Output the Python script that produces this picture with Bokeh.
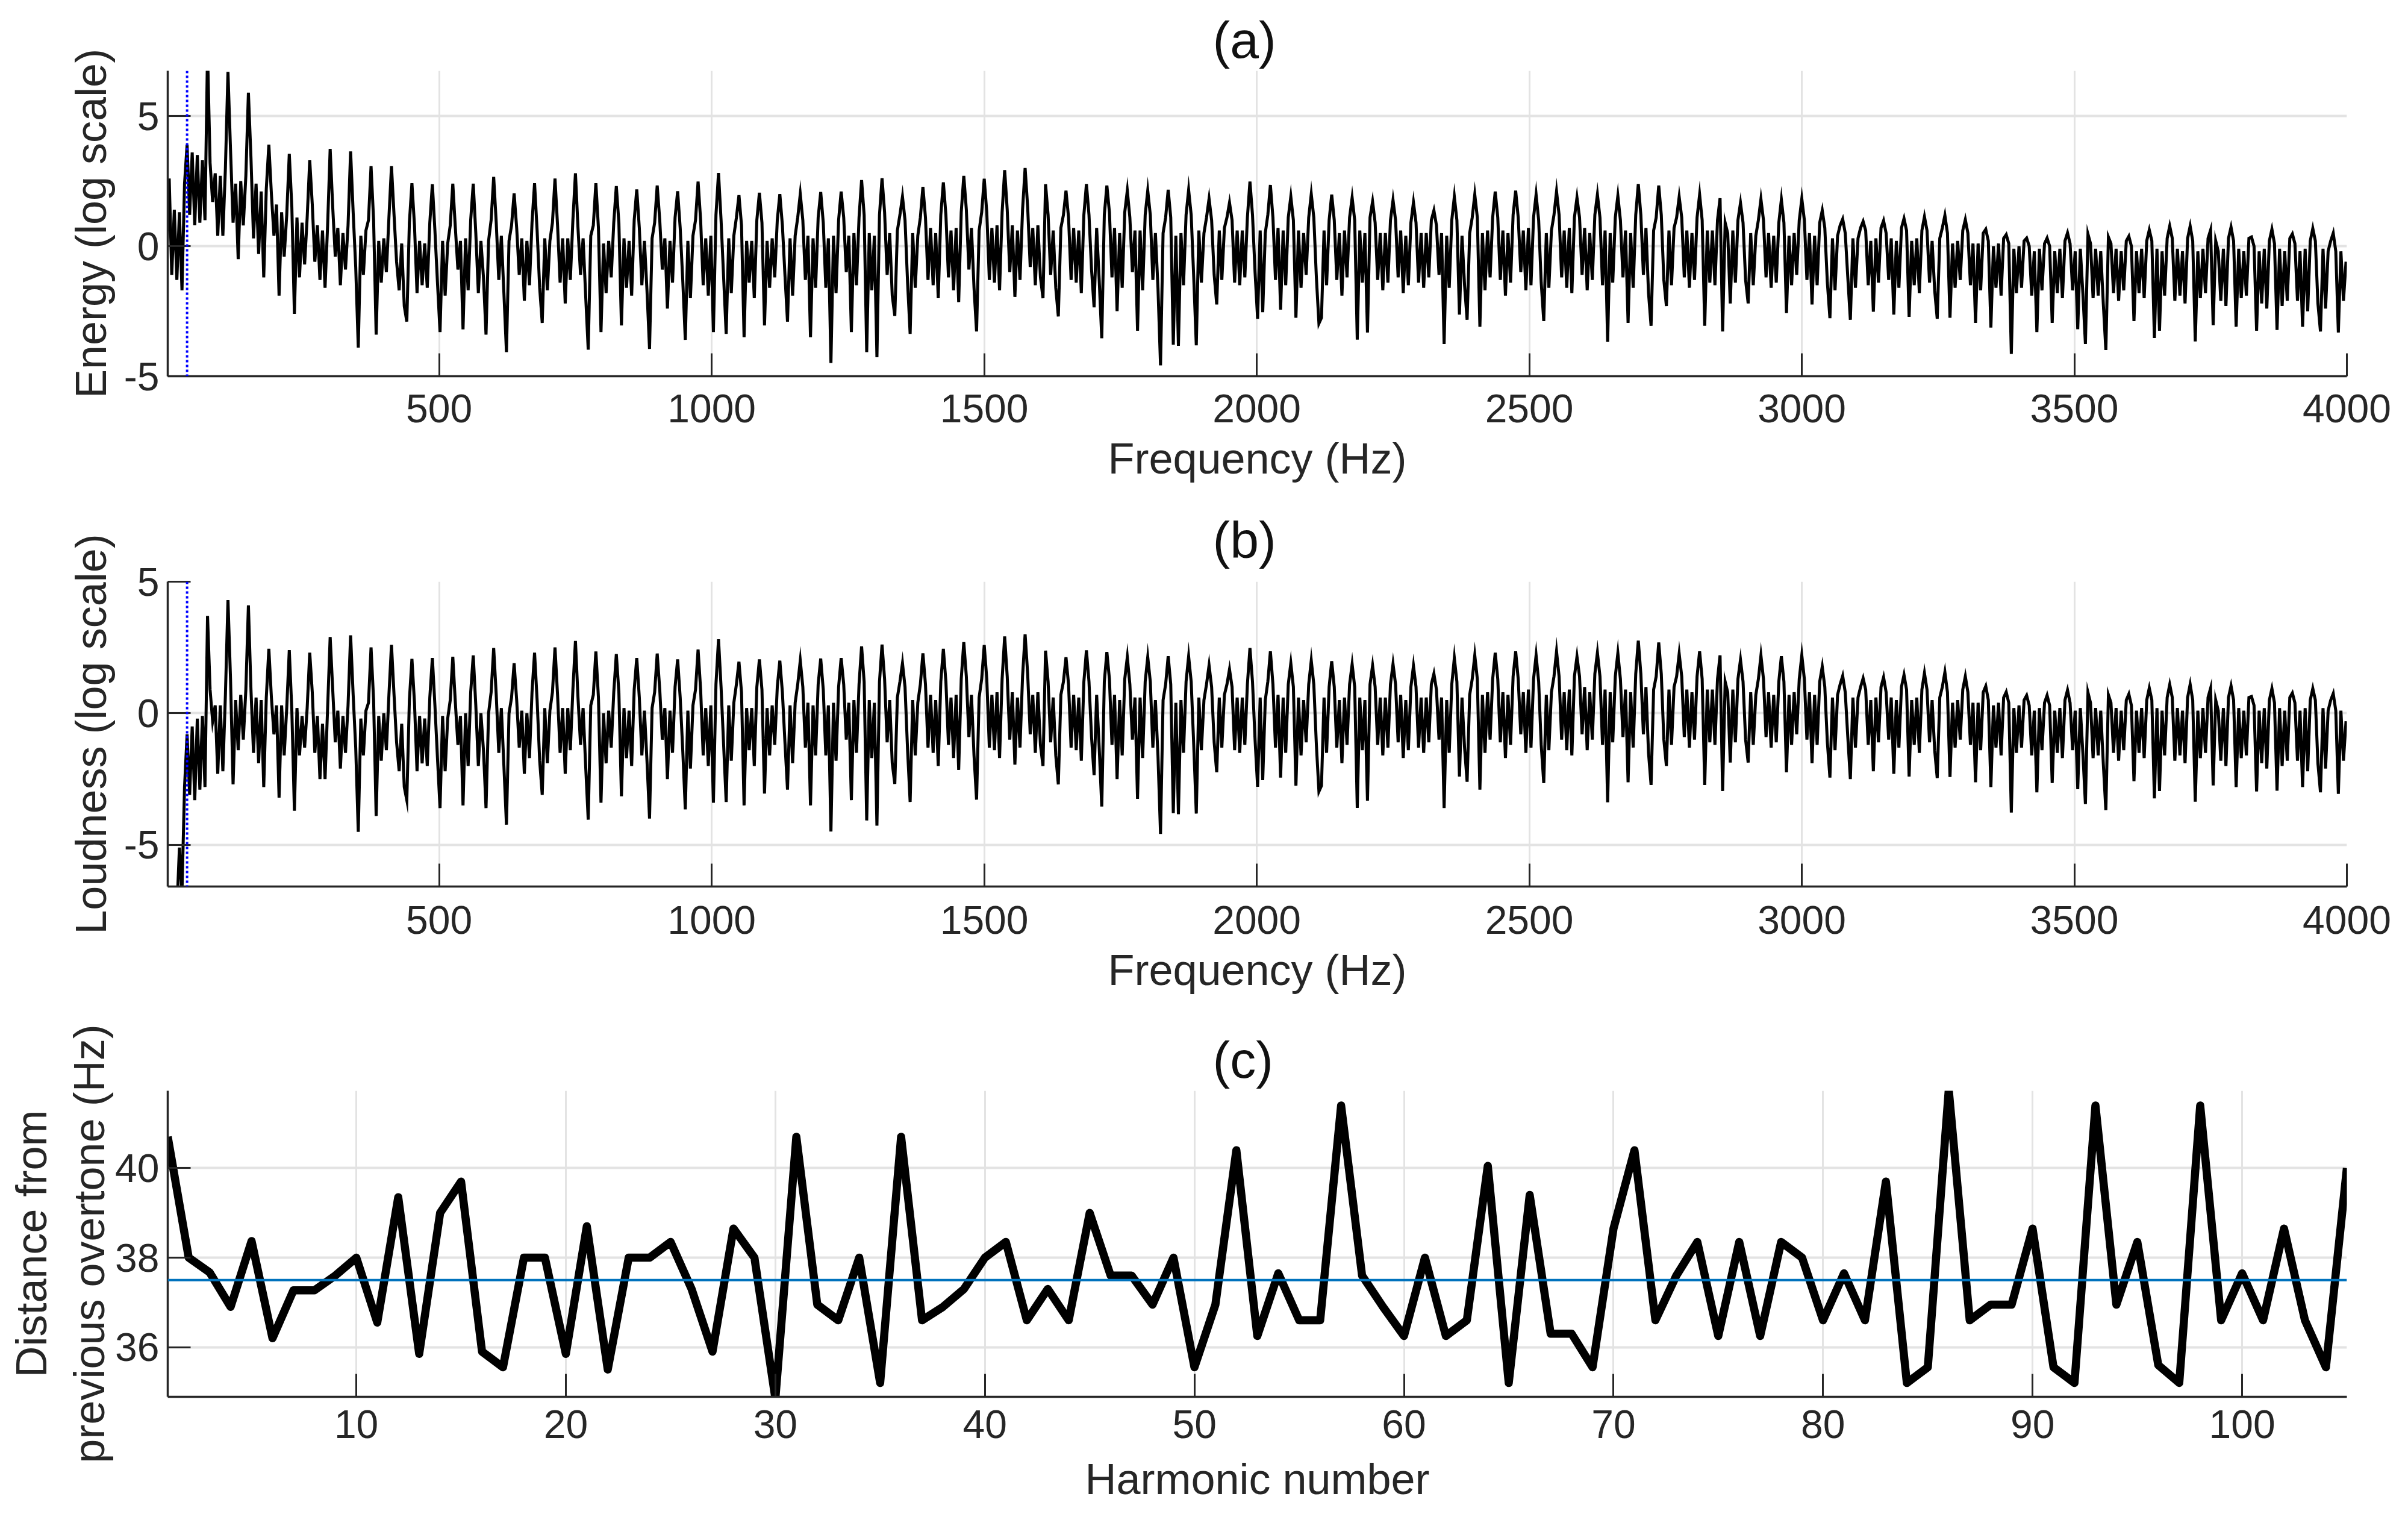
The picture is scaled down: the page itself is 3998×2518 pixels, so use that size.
import numpy as np

from bokeh.embed import file_html
from bokeh.layouts import column
from bokeh.models import FixedTicker, Range1d, Span
from bokeh.plotting import figure
from bokeh.resources import INLINE

# one row per overtone, 8 readings per 37.5 Hz, first reading of a row is the peak
energy_low = [
    -0.5,2.6,-1.1,1.4,-1.3,1.3,-1.7,2.4,
    3.9,1.2,3.6,0.8,3.5,0.9,3.3,1.0,
    7.5,3.2,1.7,2.8,0.4,2.7,0.4,3.0,
    6.7,3.7,0.9,2.4,-0.5,2.5,0.8,2.7,
    5.9,3.4,0.3,2.4,-0.3,2.1,-1.2,2.2,
    3.9,2.0,0.4,1.6,-1.9,1.3,-0.4,1.2,
    3.55,1.5,-2.6,1.1,-1.2,0.9,-0.7,1.1,
    3.3,1.6,-0.6,0.8,-1.3,0.6,-1.6,0.8,
    3.74,1.5,-0.4,0.7,-1.5,0.5,-0.9,0.8,
    3.64,1.3,-0.8,-3.9,0.4,-1.1,0.6,1.0,
    3.07,1.0,-3.4,0.2,-1.4,0.3,-1.0,1.1,
    3.07,1.2,-0.6,-1.7,0.1,-2.3,-2.9,0.9,
    2.42,0.8,-1.8,0.2,-1.5,0.1,-1.6,0.9,
    2.38,0.6,-1.4,-3.3,0.2,-1.9,0.1,0.8,
    2.4,0.7,-0.9,0.2,-3.2,0.3,-1.7,1.0,
    2.4,0.5,-1.8,0.2,-1.2,-3.4,0.2,1.0,
    2.66,0.9,-1.3,0.4,-1.8,-4.07,0.2,0.8,
    2.03,0.7,-1.1,0.3,-2.1,0.2,-1.5,0.9,
    2.42,0.6,-1.6,-2.95,0.3,-1.7,0.2,0.9,
    2.6,0.8,-1.4,0.3,-2.2,0.3,-1.3,1.0,
    2.8,0.7,-1.1,0.3,-1.9,-3.98,0.4,0.8,
    2.42,0.7,-3.3,0.1,-1.8,0.2,-1.2,0.9,
    2.31,0.9,-3.05,0.3,-1.6,0.2,-1.9,1.0,
    2.18,0.7,-1.5,0.2,-1.7,-3.95,0.3,0.9,
    2.33,1.0,-0.9,0.3,-2.4,0.2,-1.4,1.1,
    2.11,0.7,-1.3,-3.6,0.2,-2.0,0.4,1.0,
    2.48,1.0,-1.5,0.3,-1.9,0.4,-3.3,1.2,
]

loudness_low = [
    -9,-9,-9,-9,-7.5,-5.1,-6.8,-2.8,
    -0.8,-3.1,-0.5,-3.3,-0.2,-2.9,-0.1,-2.8,
    3.7,0.9,-0.3,0.3,-2.3,0.3,-2.2,0.7,
    4.3,1.3,-2.7,0.5,-1.4,0.7,-1.0,0.9,
    4.1,0.9,-1.5,0.6,-1.9,0.5,-2.8,0.6,
    2.45,0.6,-0.8,0.3,-3.2,0.3,-1.6,0.2,
    2.4,0.1,-3.7,0.2,-1.6,-0.1,-1.3,0.2,
    2.3,0.8,-1.5,-0.1,-2.5,-0.4,-2.5,0.2,
    2.9,0.9,-1.1,0.1,-2.1,-0.1,-1.5,0.3,
    2.96,0.7,-1.3,-4.5,-0.2,-1.6,0.1,0.4,
    2.5,0.5,-3.9,-0.1,-1.8,0.0,-1.4,0.7,
    2.6,0.7,-1.1,-2.2,-0.4,-2.8,-3.3,0.5,
    2.07,0.4,-2.2,-0.1,-1.9,-0.2,-2.0,0.6,
    2.1,0.3,-1.7,-3.6,-0.1,-2.2,-0.2,0.5,
    2.15,0.4,-1.2,-0.1,-3.5,0.0,-2.0,0.8,
    2.2,0.3,-2.0,0.0,-1.4,-3.6,0.0,0.8,
    2.48,0.7,-1.5,0.2,-2.0,-4.23,0.0,0.6,
    1.9,0.5,-1.3,0.1,-2.3,0.0,-1.7,0.8,
    2.3,0.5,-1.8,-3.1,0.2,-1.9,0.1,0.8,
    2.5,0.7,-1.5,0.2,-2.3,0.2,-1.4,0.9,
    2.75,0.6,-1.2,0.2,-2.0,-4.04,0.3,0.7,
    2.35,0.6,-3.4,0.0,-1.9,0.1,-1.3,0.8,
    2.25,0.8,-3.15,0.2,-1.7,0.1,-2.0,0.9,
    2.1,0.6,-1.6,0.1,-1.8,-4.0,0.2,0.8,
    2.27,0.9,-1.0,0.2,-2.5,0.1,-1.5,1.0,
    2.05,0.6,-1.4,-3.65,0.1,-2.1,0.3,0.9,
    2.42,0.9,-1.6,0.2,-2.0,0.3,-3.4,1.1,
]

# overtones 27 to 58 read the same in both panels
shared_mid = [
    2.81,1.0,-1.2,-3.37,0.3,-1.8,0.4,1.1,
    1.96,0.8,-3.5,0.2,-1.4,0.2,-2.0,1.0,
    2.05,0.9,-3.05,0.2,-1.6,0.3,-1.2,1.0,
    2.0,0.8,-1.1,-2.9,0.3,-1.9,0.4,1.1,
    2.0,1.0,-1.3,0.4,-3.5,0.3,-1.6,1.1,
    2.08,0.9,-1.6,0.3,-4.49,0.4,-1.8,1.0,
    2.1,1.1,-1.0,0.4,-3.3,0.5,-1.5,1.1,
    2.54,1.2,-4.07,0.5,-1.7,0.4,-4.27,1.2,
    2.61,1.3,-1.1,0.5,-1.9,-2.68,0.6,1.2,
    1.9,1.0,-1.4,-3.37,0.5,-1.6,0.4,1.1,
    2.28,1.1,-1.3,0.7,-1.5,0.5,-2.0,1.2,
    2.45,1.2,-1.2,0.6,-1.7,0.7,-2.15,1.3,
    2.7,1.4,-0.9,0.7,-1.6,-3.28,0.6,1.3,
    2.59,1.3,-1.3,0.7,-1.4,0.8,-1.7,1.3,
    2.92,1.4,-1.0,0.8,-1.95,0.6,-1.3,1.4,
    3.0,1.5,-0.8,0.7,-1.5,0.8,-1.2,-2.0,
    2.38,1.2,-1.1,0.6,-1.6,-2.7,0.7,1.2,
    2.13,1.1,-1.3,0.7,-1.4,0.6,-1.8,1.2,
    2.39,1.2,-0.9,-2.35,0.7,-1.3,-3.54,1.2,
    2.33,1.3,-1.2,0.7,-2.5,0.5,-1.6,1.3,
    2.13,1.1,-1.0,0.6,-3.25,0.6,-1.7,1.2,
    2.13,1.2,-1.3,0.5,-1.6,-4.58,0.5,1.1,
    2.17,1.1,-3.79,0.4,-3.83,0.5,-1.5,1.2,
    2.16,1.2,-1.2,-3.81,0.6,-1.4,0.5,1.1,
    1.82,1.0,-1.1,-2.24,0.6,-1.3,0.7,1.1,
    1.67,1.0,-1.4,0.6,-1.5,0.6,-1.2,1.1,
    2.48,1.2,-1.0,-2.79,0.6,-2.54,0.5,1.2,
    2.35,1.1,-1.3,0.7,-2.44,0.6,-1.5,1.1,
    1.9,1.0,-2.75,0.6,-1.6,0.5,-1.1,1.1,
    2.0,1.1,-1.2,-2.97,-2.75,0.6,-1.5,1.0,
    1.98,1.0,-1.3,0.5,-1.9,0.6,-1.2,1.1,
    1.86,1.0,-3.59,0.6,-1.4,0.5,-3.32,1.1,
]

energy_high = [
    1.71,0.9,-1.3,0.5,-1.7,0.5,-1.4,1.0,
    1.77,1.0,-1.2,0.6,-1.8,0.4,-1.5,0.9,
    1.68,0.9,-1.4,0.5,-1.6,0.5,-1.2,1.0,
    1.37,0.8,-1.1,0.5,-3.76,0.4,-1.6,1.0,
    1.9,1.0,-2.63,0.4,-1.5,-2.83,0.5,1.1,
    1.98,1.1,-3.1,0.5,-1.7,0.6,-1.2,1.1,
    2.1,1.1,-1.3,0.6,-1.9,0.5,-1.4,1.2,
    2.13,1.1,-1.0,0.6,-1.7,0.7,-1.5,1.1,
    1.98,1.0,-1.4,-2.88,0.5,-1.6,0.6,1.2,
    2.1,1.2,-1.2,0.6,-1.6,0.7,-1.8,1.1,
    1.86,1.1,-1.1,0.7,-1.7,0.5,-1.3,1.2,
    1.98,1.1,-1.5,0.6,-3.68,0.5,-1.4,1.1,
    1.93,1.0,-1.2,0.6,-2.95,0.5,-1.6,1.2,
    2.39,1.2,-1.1,0.7,-1.8,-3.06,0.6,1.1,
    2.33,1.2,-1.3,-2.3,0.6,-1.5,0.7,1.1,
    1.89,1.1,-1.2,0.6,-1.6,0.5,-1.3,1.1,
    1.98,1.0,-3.06,0.6,-1.4,0.6,-1.5,1.0,
    1.84,-3.28,0.9,0.5,-2.2,0.6,-1.4,1.0,
    1.66,0.9,-1.3,-2.2,0.5,-1.5,0.4,1.0,
    1.8,1.0,-1.2,0.5,-1.6,0.4,-1.4,0.9,
    1.79,0.9,-2.57,0.4,-1.5,0.5,-1.1,1.0,
    1.82,1.0,-1.3,0.5,-2.24,0.4,-1.5,0.9,
    1.37,0.7,-1.4,-2.77,0.3,-1.7,0.4,0.8,
    1.04,0.5,-1.2,-2.83,0.3,-1.6,0.3,0.7,
    0.95,0.6,-1.5,0.2,-2.52,0.3,-1.4,0.7,
    0.98,0.5,-1.3,0.3,-2.63,0.2,-1.6,0.7,
    1.06,0.6,-2.72,0.2,-1.5,0.3,-1.8,0.6,
    1.13,0.6,-1.4,0.2,-1.7,-2.79,0.3,0.7,
    1.18,0.5,-2.75,0.1,-1.6,0.2,-1.3,0.6,
    1.02,0.5,-1.5,0.1,-2.95,0.1,-1.7,0.5,
    0.65,0.2,-3.13,0.0,-1.6,0.1,-1.9,0.3,
    0.44,0.1,-4.14,-0.1,-1.8,0.0,-1.6,0.2,
    0.31,0.0,-1.9,-0.2,-3.3,-0.1,-1.7,0.1,
    0.31,0.0,-2.95,-0.2,-1.8,-0.1,-2.0,0.2,
    0.51,0.1,-1.7,-0.2,-3.19,-0.1,-1.8,-3.76,
    0.46,0.1,-2.0,-0.1,-1.9,-0.2,-2.2,-3.99,
    0.35,0.1,-1.8,-0.1,-2.1,-0.2,-1.7,0.2,
    0.38,0.0,-2.88,-0.2,-1.8,-0.1,-2.0,0.2,
    0.62,0.2,-3.53,-0.1,-3.25,-0.2,-1.9,0.3,
    0.77,0.3,-2.1,-0.1,-1.9,-0.2,-2.2,0.3,
    0.77,0.2,-3.66,-0.2,-2.0,-0.1,-1.8,0.3,
    0.62,-3.04,0.2,-0.2,-2.1,-0.1,-2.3,0.3,
    0.73,0.2,-3.1,-0.1,-2.0,-0.2,-1.9,0.3,
    0.35,0.0,-3.25,-0.2,-2.2,-0.1,-2.4,0.2,
    0.65,0.1,-3.22,-0.1,-2.3,-0.2,-2.1,0.3,
    0.47,0.1,-2.1,-0.2,-3.1,-0.1,-2.5,0.2,
    0.68,0.2,-2.2,-3.28,-0.1,-2.4,-0.2,0.2,
    0.5,-0.2,-3.32,-0.2,-2.1,-0.6,
]

loudness_high = [
    1.81,1.0,-1.2,0.6,-1.6,0.6,-1.3,1.1,
    1.87,1.1,-1.1,0.7,-1.7,0.5,-1.4,1.0,
    1.8,1.0,-1.3,0.6,-1.5,0.6,-1.1,1.1,
    1.5,0.9,-1.0,0.6,-3.6,0.5,-1.5,1.1,
    2.1,1.2,-2.4,0.6,-1.3,-2.6,0.7,1.3,
    2.2,1.3,-2.9,0.7,-1.5,0.8,-1.0,1.3,
    2.3,1.3,-1.1,0.8,-1.7,0.7,-1.2,1.4,
    2.35,1.3,-0.8,0.8,-1.5,0.9,-1.3,1.3,
    2.2,1.2,-1.2,-2.65,0.7,-1.4,0.8,1.4,
    2.35,1.4,-1.0,0.8,-1.4,0.9,-1.6,1.4,
    2.15,1.4,-0.8,1.0,-1.4,0.8,-1.0,1.5,
    2.3,1.4,-1.2,0.9,-3.38,0.8,-1.1,1.4,
    2.28,1.3,-0.9,0.9,-2.62,0.8,-1.3,1.5,
    2.76,1.5,-0.8,1.0,-1.5,-2.72,0.9,1.4,
    2.69,1.5,-1.0,-2.0,0.9,-1.2,1.0,1.4,
    2.26,1.4,-0.9,0.9,-1.3,0.8,-1.0,1.4,
    2.35,1.3,-2.72,0.9,-1.1,0.9,-1.2,1.3,
    2.2,-2.95,1.2,0.8,-1.87,0.9,-1.1,1.3,
    2.03,1.2,-1.0,-1.87,0.8,-1.2,0.7,1.3,
    2.19,1.3,-0.9,0.8,-1.3,0.7,-1.1,1.2,
    2.17,1.2,-2.24,0.7,-1.2,0.8,-0.8,1.3,
    2.2,1.3,-1.0,0.8,-1.9,0.7,-1.2,1.2,
    1.77,1.0,-1.1,-2.44,0.6,-1.4,0.7,1.1,
    1.42,0.8,-0.9,-2.5,0.6,-1.3,0.6,1.0,
    1.33,0.9,-1.2,0.5,-2.2,0.6,-1.1,1.0,
    1.37,0.8,-1.0,0.6,-2.3,0.5,-1.3,1.0,
    1.46,0.9,-2.4,0.5,-1.2,0.6,-1.5,0.9,
    1.53,0.9,-1.1,0.5,-1.4,-2.46,0.6,1.0,
    1.56,0.8,-2.42,0.4,-1.3,0.5,-1.0,0.9,
    1.4,0.8,-1.2,0.4,-2.62,0.4,-1.4,0.8,
    1.03,0.5,-2.8,0.3,-1.3,0.4,-1.6,0.6,
    0.81,0.4,-3.77,0.2,-1.5,0.3,-1.3,0.5,
    0.68,0.3,-1.6,0.1,-3.0,0.2,-1.4,0.4,
    0.68,0.3,-2.65,0.1,-1.5,0.2,-1.7,0.5,
    0.88,0.4,-1.4,0.1,-2.88,0.2,-1.5,-3.45,
    0.79,0.4,-1.7,0.2,-1.6,0.1,-1.9,-3.68,
    0.7,0.4,-1.5,0.2,-1.8,0.1,-1.4,0.5,
    0.73,0.3,-2.58,0.1,-1.5,0.2,-1.7,0.5,
    0.96,0.5,-3.23,0.2,-2.95,0.1,-1.6,0.6,
    1.09,0.6,-1.8,0.2,-1.6,0.1,-1.9,0.6,
    1.1,0.5,-3.36,0.1,-1.7,0.2,-1.5,0.6,
    0.95,-2.74,0.5,0.1,-1.8,0.2,-2.0,0.6,
    1.04,0.5,-2.8,0.2,-1.7,0.1,-1.6,0.6,
    0.64,0.3,-2.97,0.1,-1.9,0.2,-2.1,0.5,
    0.94,0.4,-2.94,0.2,-2.0,0.1,-1.8,0.6,
    0.77,0.4,-1.8,0.1,-2.8,0.2,-2.2,0.5,
    0.94,0.5,-1.9,-3.0,0.2,-2.1,0.1,0.5,
    0.75,0.1,-3.06,0.1,-1.8,-0.3,
]

harmonic_distance = [
    40.7,38.0,37.67,36.9,38.37,36.2,37.27,37.27,37.6,38.0,
    36.55,39.35,35.85,39.0,39.7,35.9,35.55,38.0,38.0,35.85,
    38.7,35.5,38.0,38.0,38.35,37.3,35.9,38.65,38.0,34.85,
    40.7,36.95,36.6,38.0,35.2,40.7,36.6,36.9,37.3,38.0,
    38.35,36.6,37.3,36.6,39.0,37.6,37.6,36.95,38.0,35.55,
    36.95,40.4,36.25,37.65,36.6,36.6,41.4,37.6,36.9,36.25,
    38.0,36.25,36.6,40.05,35.2,39.4,36.3,36.3,35.55,38.65,
    40.4,36.6,37.6,38.35,36.25,38.35,36.25,38.35,38.0,36.6,
    37.65,36.6,39.7,35.2,35.55,41.75,36.6,36.95,36.95,38.65,
    35.55,35.2,41.4,36.95,38.35,35.6,35.2,41.4,36.6,37.65,
    36.6,38.65,36.6,35.55,40.0,
]

fundamental = 37.5
mean_distance = 37.5
freq_step = fundamental / 8

freq_ticks = [500, 1000, 1500, 2000, 2500, 3000, 3500, 4000]
level_ticks = [-5, 0, 5]
harmonic_ticks = [10, 20, 30, 40, 50, 60, 70, 80, 90, 100]
distance_ticks = [36, 38, 40]

TEXT = "#262626"
GRID = "#e3e3e3"
FONT = "Liberation Sans"


def make_panel(title, xlabel, ylabel, xr, yr, xticks, yticks, height, top, bottom,
               title_off, tick_off, xlabel_off, ylabel_off):
    p = figure(width=3982, height=height, x_range=Range1d(*xr), y_range=Range1d(*yr),
               output_backend="svg", toolbar_location=None,
               min_border_left=278, min_border_right=86, min_border_top=top, min_border_bottom=bottom)
    p.outline_line_color = None
    p.title.text = title
    p.title.align = "left"
    p.title.offset = 1735
    p.title.text_font = FONT
    p.title.text_font_size = "86px"
    p.title.text_font_style = "normal"
    p.title.text_color = "#111111"
    p.title.standoff = title_off

    p.xaxis.ticker = FixedTicker(ticks=xticks)
    p.yaxis.ticker = FixedTicker(ticks=yticks)
    p.yaxis.major_label_overrides = {t: str(t) for t in yticks}
    p.xaxis.major_label_overrides = {t: str(t) for t in xticks}
    p.xaxis.axis_label = xlabel
    p.yaxis.axis_label = ylabel

    for ax in (p.xaxis[0], p.yaxis[0]):
        ax.axis_line_color = TEXT
        ax.axis_line_width = 3.5
        ax.major_tick_line_color = TEXT
        ax.major_tick_line_width = 3
        ax.major_tick_in = 38
        ax.major_tick_out = 0
        ax.minor_tick_line_color = None
        ax.major_label_text_font = FONT
        ax.major_label_text_font_size = "66px"
        ax.major_label_text_color = TEXT
        ax.axis_label_text_font = FONT
        ax.axis_label_text_font_size = "72px"
        ax.axis_label_text_font_style = "normal"
        ax.axis_label_text_color = TEXT
    p.xaxis.major_label_standoff = tick_off
    p.yaxis.major_label_standoff = 14
    p.xaxis.axis_label_standoff = xlabel_off
    p.yaxis.axis_label_standoff = ylabel_off

    p.xgrid.ticker = FixedTicker(ticks=xticks)
    p.ygrid.ticker = FixedTicker(ticks=yticks)
    p.xgrid.grid_line_color = GRID
    p.xgrid.grid_line_width = 3
    p.ygrid.grid_line_color = GRID
    p.ygrid.grid_line_width = 4
    return p


energy = np.array(energy_low + shared_mid + energy_high)
loudness = np.array(loudness_low + shared_mid + loudness_high)
freq = np.arange(len(energy)) * freq_step
harmonic = np.arange(1, len(harmonic_distance) + 1)

p1 = make_panel("(a)", "Frequency (Hz)", "Energy (log scale)", (2, 4000), (-5, 6.74),
                freq_ticks, level_ticks, 806, 117, 182, 8, 30, 17, 12)
p1.line(freq, energy, color="black", line_width=5, line_join="miter")
p1.add_layout(Span(location=fundamental, dimension="height", line_color="#0000ff",
                   line_width=4, line_dash="4 4"))

p2 = make_panel("(b)", "Frequency (Hz)", "Loudness (log scale)", (2, 4000), (-6.58, 5),
                freq_ticks, level_ticks, 847, 159, 182, 43, 32, 17, 12)
p2.line(freq, loudness, color="black", line_width=5, line_join="miter")
p2.add_layout(Span(location=fundamental, dimension="height", line_color="#0000ff",
                   line_width=4, line_dash="4 4"))

p3 = make_panel("(c)", "Harmonic number", "Distance from\nprevious overtone (Hz)", (1, 105), (34.89, 41.73),
                harmonic_ticks, distance_ticks, 860, 157, 195, 8, 22, 25, 0)
p3.line(harmonic, harmonic_distance, color="black", line_width=13.5, line_join="round")
p3.add_layout(Span(location=mean_distance, dimension="width", line_color="#0072bd", line_width=4))

page = column(p1, p2, p3, spacing=0)
open("out.html", "w").write(file_html(page, INLINE))
